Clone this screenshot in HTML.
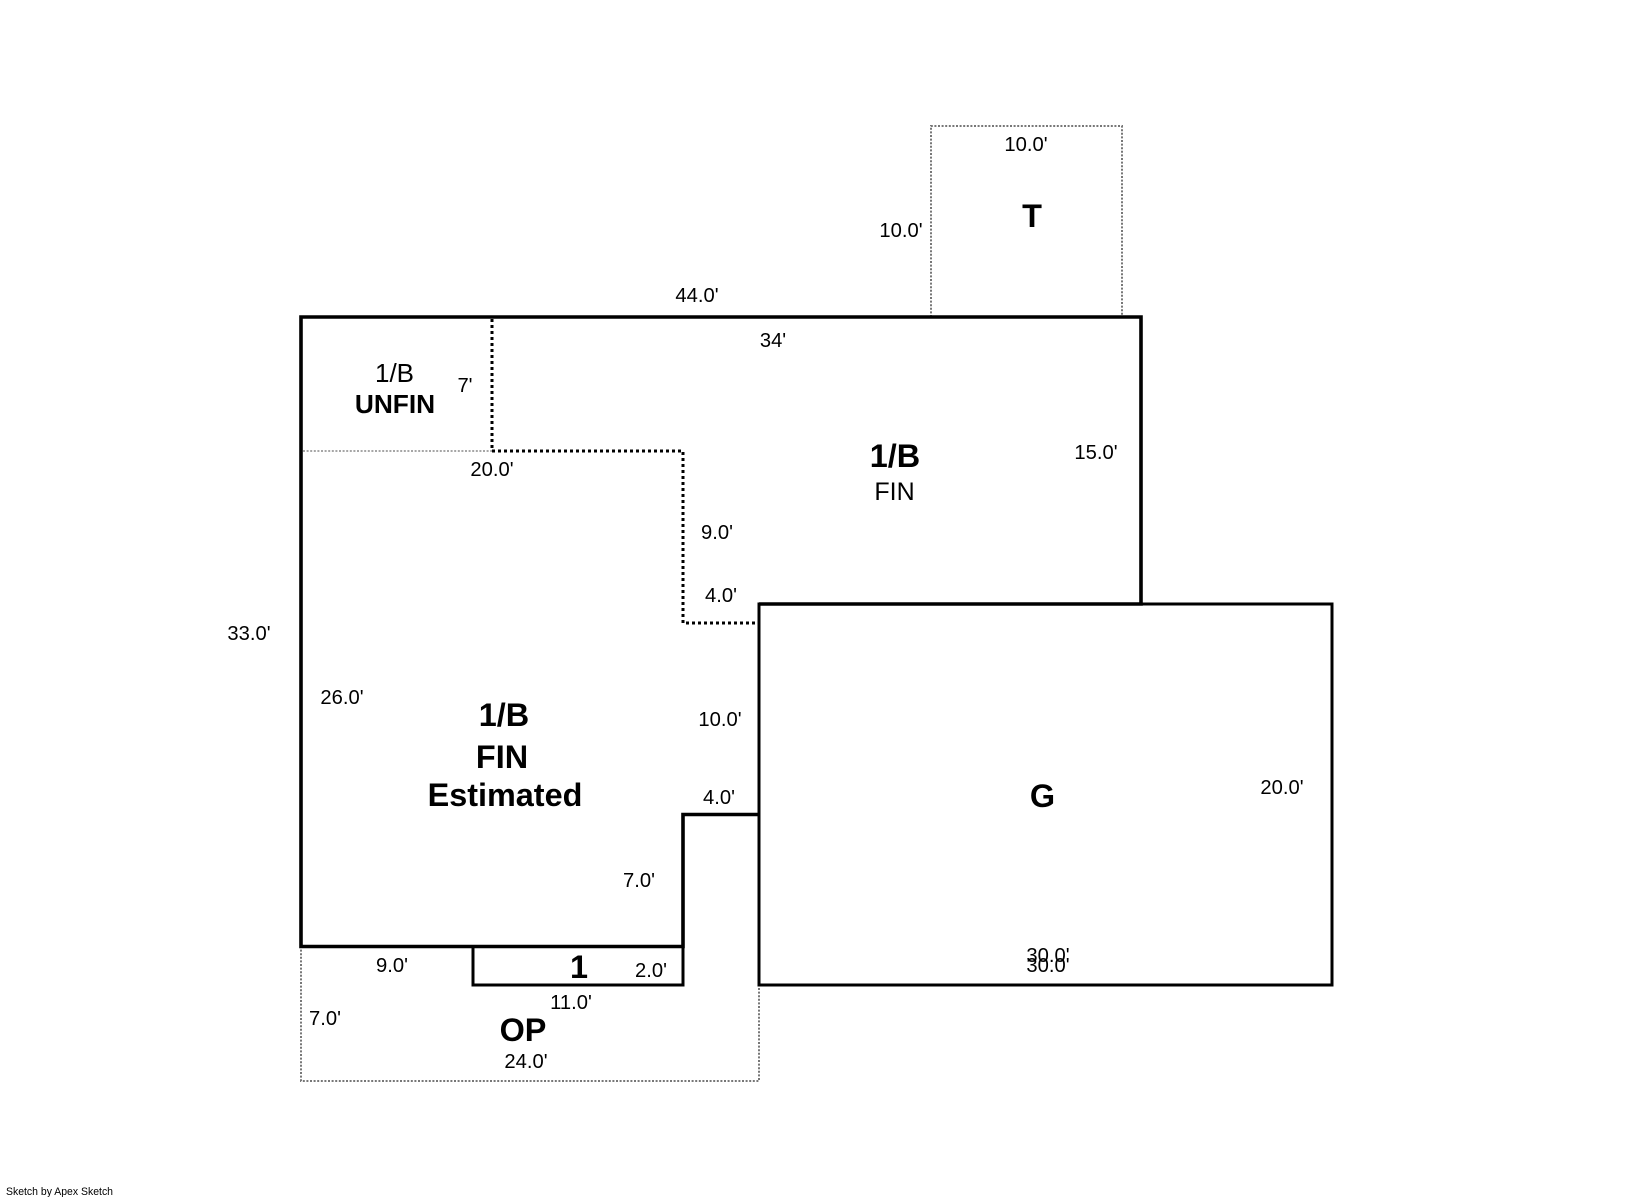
<!DOCTYPE html>
<html><head><meta charset="utf-8"><style>
html,body{margin:0;padding:0;background:#fff}
svg{display:block}
text{font-family:"Liberation Sans",Arial,sans-serif;fill:#000;text-anchor:middle}
.d{font-size:20.2px}
.b{font-size:32.4px;font-weight:bold}
</style></head><body>
<svg width="1632" height="1197" viewBox="0 0 1632 1197" xmlns="http://www.w3.org/2000/svg">
<rect width="1632" height="1197" fill="#fff"/>
<g fill="none" stroke="#777" stroke-width="2" stroke-dasharray="2 1.6">
<path d="M931 317V126H1122V317"/>
<path d="M301 946V1081H759V985"/>
<path d="M303 451H492" stroke-width="1.5" stroke="#888"/>
</g>
<g fill="none" stroke="#000" stroke-width="3" stroke-dasharray="3 3">
<path d="M492 319V451"/>
<path d="M492 451H683V623H758"/>
</g>
<g fill="none" stroke="#000" stroke-width="3.6" stroke-linejoin="miter">
<path d="M759 604H1141V317H301V946.5H683V814.5H759"/>
</g>
<g fill="none" stroke="#000" stroke-width="3" stroke-linejoin="miter">
<path d="M473 946V985H683V946"/>
<rect x="759" y="604" width="573" height="381"/>
</g>
<g class="d">
<text class="d" x="697" y="302">44.0'</text>
<text class="d" x="773" y="347">34'</text>
<text class="d" x="1026" y="151">10.0'</text>
<text class="d" x="901" y="237">10.0'</text>
<text class="d" x="465" y="392">7'</text>
<text class="d" x="492" y="476">20.0'</text>
<text class="d" x="1096" y="459">15.0'</text>
<text class="d" x="717" y="539">9.0'</text>
<text class="d" x="721" y="602">4.0'</text>
<text class="d" x="249" y="640">33.0'</text>
<text class="d" x="342" y="704">26.0'</text>
<text class="d" x="720" y="726">10.0'</text>
<text class="d" x="719" y="804">4.0'</text>
<text class="d" x="639" y="887">7.0'</text>
<text class="d" x="1282" y="794">20.0'</text>
<text class="d" x="1048" y="962">30.0'</text>
<text class="d" x="1048" y="972">30.0'</text>
<text class="d" x="392" y="972">9.0'</text>
<text class="d" x="651" y="977">2.0'</text>
<text class="d" x="571" y="1009">11.0'</text>
<text class="d" x="325" y="1025">7.0'</text>
<text class="d" x="526" y="1068">24.0'</text>
</g>
<text class="b" x="1032" y="227">T</text>
<text x="394.5" y="382" font-size="26">1/B</text>
<text x="395" y="413" font-size="26.3" font-weight="bold">UNFIN</text>
<text class="b" x="895" y="467">1/B</text>
<text x="894.5" y="500" font-size="25">FIN</text>
<text class="b" x="504" y="726">1/B</text>
<text class="b" x="502" y="768">FIN</text>
<text class="b" x="505" y="806">Estimated</text>
<text class="b" x="1042.5" y="807">G</text>
<text class="b" x="579" y="978">1</text>
<text class="b" x="523" y="1041">OP</text>
<text x="6" y="1195" font-size="11" style="text-anchor:start" textLength="107" lengthAdjust="spacingAndGlyphs">Sketch by Apex Sketch</text>
</svg>
</body></html>
